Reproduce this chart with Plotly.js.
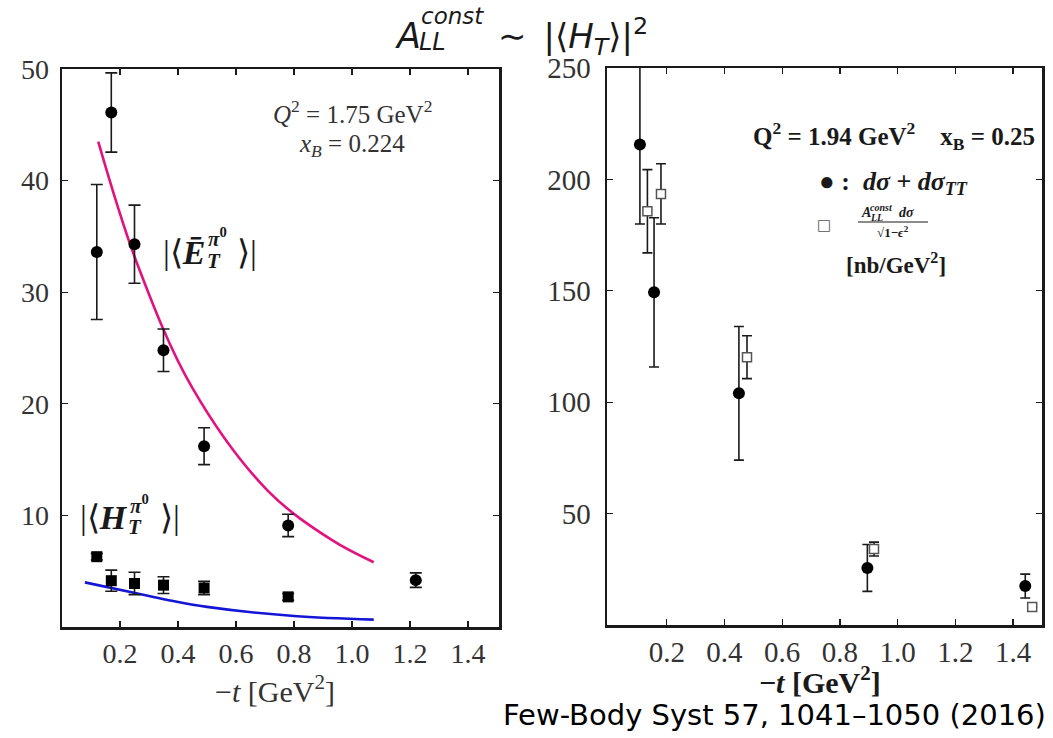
<!DOCTYPE html>
<html>
<head>
<meta charset="utf-8">
<script src="https://cdn.plot.ly/plotly-3.0.1.min.js"></script>
<style>
  html, body { margin: 0; padding: 0; background: #fff; }
  #chart { width: 1053px; height: 738px; }
</style>
</head>
<body>
<div id="chart"></div>
<script>
// ---------- left panel: transversity GPD moments vs -t ----------
const eBarX   = [0.12, 0.17, 0.25, 0.35, 0.49, 0.78, 1.22];
const eBarY   = [33.6, 46.1, 34.3, 24.8, 16.2, 9.1, 4.2];
const eBarErr = [6.05, 3.55, 3.5, 1.9, 1.65, 1.0, 0.65];

const hTX   = [0.12, 0.17, 0.25, 0.35, 0.49, 0.78];
const hTY   = [6.3, 4.15, 3.9, 3.75, 3.5, 2.7];
const hTErr = [0.3, 0.95, 1.0, 0.75, 0.6, 0.3];

// model curves
const eCurveX = [0.125, 0.26, 0.45, 0.71, 0.93, 1.075];
const eCurveY = [43.5, 32.5, 21.4, 12.2, 7.8, 5.8];
const hCurveX = [0.079, 0.26, 0.36, 0.50, 0.80, 1.075];
const hCurveY = [4.0, 3.0, 2.45, 1.8, 0.98, 0.66];

// ---------- right panel: cross sections [nb/GeV^2] ----------
const xsX   = [0.107, 0.156, 0.45, 0.895, 1.442];
const xsY   = [215.7, 149.3, 104, 25.6, 17.5];
const xsErr = [35.7, 33.5, 30, 10.5, 5.35];

const allX   = [0.133, 0.18, 0.478, 0.918, 1.466];
const allY   = [185.7, 193.5, 120.2, 34.1, 8.1];
const allErr = [18.7, 13.5, 9.6, 3.1, 0];

const leftXTicks  = [0.2, 0.4, 0.6, 0.8, 1.0, 1.2, 1.4];
const leftYTicks  = [10, 20, 30, 40, 50];
const rightXTicks = [0.2, 0.4, 0.6, 0.8, 1.0, 1.2, 1.4];
const rightYTicks = [50, 100, 150, 200, 250];

const W = 1053, H = 738;
const SERIF = 'Liberation Serif, Times New Roman, serif';
const SANS = 'DejaVu Sans, sans-serif';
const INK = '#1a1a1a';

// page-pixel helpers for paper coordinates
const px = v => v / W;
const py = v => 1 - v / H;

function note(x, y, text, size, opts = {}) {
  return {
    xref: 'paper', yref: 'paper', x: px(x), y: py(y),
    text: text, showarrow: false,
    xanchor: opts.xanchor || 'left', yanchor: 'middle',
    borderpad: 0,
    font: { family: opts.family || SERIF, size: size, color: opts.color || INK }
  };
}

const errStyle = (arr, w) => ({
  type: 'data', array: arr, visible: true,
  color: INK, thickness: 1.6, width: w
});

const traces = [
  { x: eCurveX, y: eCurveY, xaxis: 'x', yaxis: 'y', mode: 'lines',
    line: { color: '#e2127f', width: 2.6, shape: 'spline', smoothing: 1 } },
  { x: hCurveX, y: hCurveY, xaxis: 'x', yaxis: 'y', mode: 'lines',
    line: { color: '#1515d6', width: 2.6, shape: 'spline', smoothing: 1 } },
  { x: eBarX, y: eBarY, xaxis: 'x', yaxis: 'y', mode: 'markers',
    error_y: errStyle(eBarErr, 6),
    marker: { symbol: 'circle', size: 12, color: '#000' } },
  { x: hTX, y: hTY, xaxis: 'x', yaxis: 'y', mode: 'markers',
    error_y: errStyle(hTErr, 6),
    marker: { symbol: 'square', size: 11, color: '#000' } },
  { x: xsX, y: xsY, xaxis: 'x2', yaxis: 'y2', mode: 'markers',
    error_y: errStyle(xsErr, 5),
    marker: { symbol: 'circle', size: 12, color: '#000' } },
  { x: allX, y: allY, xaxis: 'x2', yaxis: 'y2', mode: 'markers',
    error_y: errStyle(allErr, 5),
    marker: { symbol: 'square', size: 9, color: '#fff',
              line: { color: '#555', width: 1.5 } } }
];

const axisBase = {
  showgrid: false, zeroline: false, showline: true,
  linecolor: INK, linewidth: 2.5, mirror: 'ticks',
  ticks: 'inside', ticklen: 6, tickwidth: 1.4, tickcolor: INK,
  tickmode: 'array'
};

const fmt = v => v.toFixed(1);

const layout = {
  width: W, height: H,
  margin: { l: 0, r: 0, t: 0, b: 0 },
  paper_bgcolor: '#fff', plot_bgcolor: '#fff',
  showlegend: false,
  xaxis: Object.assign({}, axisBase, {
    domain: [px(62), px(499)], range: [0, 1.507], anchor: 'y',
    tickvals: leftXTicks, ticktext: leftXTicks.map(fmt),
    ticklabelstandoff: 0,
    tickfont: { family: SERIF, size: 28, color: '#333' }
  }),
  yaxis: Object.assign({}, axisBase, {
    domain: [py(627), py(69)], range: [0, 50], anchor: 'x',
    tickvals: leftYTicks, ticktext: leftYTicks.map(String),
    ticklabelstandoff: 5,
    tickfont: { family: SERIF, size: 28, color: '#333' }
  }),
  xaxis2: Object.assign({}, axisBase, {
    domain: [px(607), px(1042)], range: [-0.007, 1.5], anchor: 'y2',
    tickvals: rightXTicks, ticktext: rightXTicks.map(fmt),
    ticklabelstandoff: 0,
    tickfont: { family: SERIF, size: 29, color: '#333' }
  }),
  yaxis2: Object.assign({}, axisBase, {
    domain: [py(625), py(68)], range: [0, 250], anchor: 'x2',
    tickvals: rightYTicks, ticktext: rightYTicks.map(String),
    ticklabelstandoff: 8,
    tickfont: { family: SERIF, size: 29, color: '#333' }
  }),
  shapes: [
    // fraction bar in the right-panel key
    { type: 'line', xref: 'paper', yref: 'paper',
      x0: px(858), x1: px(928), y0: py(222), y1: py(222),
      line: { color: INK, width: 1 } }
  ],
  annotations: [
    // headline
    note(394, 36, '<i>A</i>', 35, { family: SANS }),
    note(420, 16, '<i>const</i>', 23, { family: SANS }),
    note(418, 42, '<i>LL</i>', 24, { family: SANS }),
    note(497, 36, '\u223C\u2002|\u27E8<i>H</i><sub><i>T</i></sub>\u27E9|<sup>2</sup>', 34, { family: SANS }),

    // left panel texts
    note(352, 112, '<i>Q</i><sup>2</sup> = 1.75 GeV<sup>2</sup>', 25, { xanchor: 'center', color: '#333' }),
    note(352, 145, '<i>x</i><sub><i>B</i></sub> = 0.224', 25, { xanchor: 'center', color: '#333' }),

    note(162, 252, '|\u27E8<b><i>\u0112</i></b>', 34),
    note(207, 238, '<b><i>\u03C0</i></b><sup><b>0</b></sup>', 21),
    note(206, 261, '<b><i>T</i></b>', 21),
    note(236, 252, '\u27E9|', 34),

    note(79, 517, '|\u27E8<b><i>H</i></b>', 34),
    note(129, 504, '<b><i>\u03C0</i></b><sup><b>0</b></sup>', 21),
    note(127, 527, '<b><i>T</i></b>', 21),
    note(159, 517, '\u27E9|', 34),

    note(275, 689, '\u2212<i>t</i> [GeV<sup>2</sup>]', 30, { xanchor: 'center', color: '#333' }),

    // right panel texts
    note(894, 136, '<b>Q<sup>2</sup> = 1.94 GeV<sup>2</sup>\u2003x<sub>B</sub> = 0.25</b>', 25, { xanchor: 'center' }),
    note(818, 183, '\u25CF<b> : </b> <b><i>d\u03C3</i> + <i>d\u03C3</i><sub><i>TT</i></sub></b>', 26),
    note(816, 225, '\u25A1', 15, { color: '#555', family: SANS }),
    note(860, 212, '<b><i>A</i></b>', 14),
    note(869, 208, '<b><i>const</i></b>', 10),
    note(869, 217, '<b><i>LL</i></b>', 10),
    note(898, 212, '<b><i>d\u03C3</i></b>', 14),
    note(893, 232, '<b>\u221A1\u2212<i>\u03F5</i><sup>2</sup></b>', 13, { xanchor: 'center' }),
    note(896, 263, '<b>[nb/GeV<sup>2</sup>]</b>', 23, { xanchor: 'center' }),

    note(820, 680, '<b>\u2212<i>t</i> [GeV<sup>2</sup>]</b>', 30, { xanchor: 'center' }),

    // reference line
    note(1047, 715, 'Few-Body Syst 57, 1041\u20131050 (2016)', 29, { family: SANS, xanchor: 'right', color: '#000' })
  ]
};

Plotly.newPlot('chart', traces, layout, { staticPlot: true, displayModeBar: false });
</script>
</body>
</html>
